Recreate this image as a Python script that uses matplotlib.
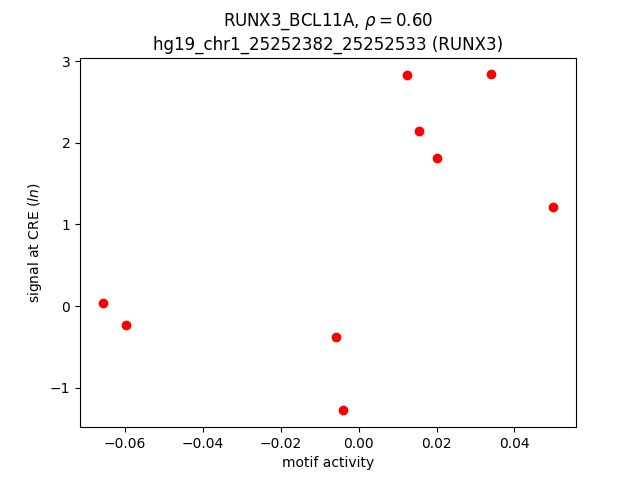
import numpy as np
import matplotlib.pyplot as plt

motif_activity = [-0.0657, -0.0597, -0.0059, -0.0041, 0.0125, 0.0155, 0.0201, 0.0339, 0.0500]
signal = [0.04, -0.23, -0.38, -1.28, 2.83, 2.14, 1.81, 2.84, 1.21]

fig, ax = plt.subplots(figsize=(6.4, 4.8), dpi=100)
ax.scatter(motif_activity, signal, color="red")
ax.set_title("RUNX3_BCL11A, $\\rho = 0.60$\nhg19_chr1_25252382_25252533 (RUNX3)")
ax.set_xlabel("motif activity")
ax.set_ylabel("signal at CRE ($ln$)")
fig.savefig("out.png")
